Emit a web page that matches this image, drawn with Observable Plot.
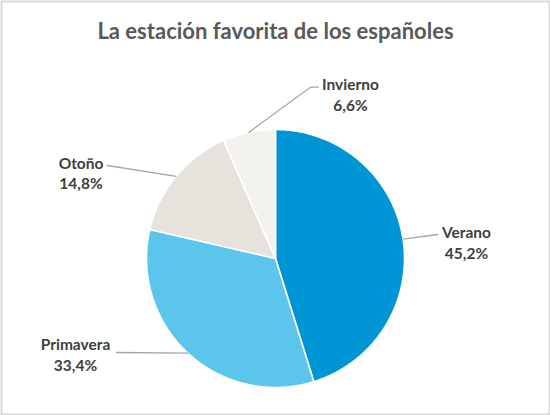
<!DOCTYPE html>
<html>
<head>
<meta charset="utf-8">
<script src="https://cdn.jsdelivr.net/npm/d3@7"></script>
<script src="https://cdn.jsdelivr.net/npm/@observablehq/plot@0.6"></script>
<style>
  html, body { margin: 0; padding: 0; background: #fff; }
  #chart svg { display: block; }
</style>
</head>
<body>
<div id="chart"></div>
<script>
// ---- data ----
const title = "La estación favorita de los españoles";
const seasons = ["Verano", "Primavera", "Otoño", "Invierno"];
const shares = [45.2, 33.4, 14.8, 6.6];
const shareLabels = ["45,2%", "33,4%", "14,8%", "6,6%"];
const colors = ["#0096D6", "#5BC5EC", "#E8E2DC", "#F4F2EE"];

// ---- layout (pixels) ----
const W = 550, H = 415, cx = 275, cy = 258, R = 129;
const toU = px => (px - cx) / R;
const toV = py => (cy - py) / R;
// label block centres and leader end points (label side)
const labelLayout = {
  "Verano":    {x: 466, y: 241.5, leader: [[437, 234]]},
  "Primavera": {x: 75,  y: 353.5, leader: [[116, 352]]},
  "Otoño":     {x: 80.5, y: 172,  leader: [[107, 165]]},
  "Invierno":  {x: 350, y: 93.5,  leader: [[318, 86.7], [310, 86.7]]}
};

// ---- slice geometry from values ----
const total = d3.sum(shares);
let acc = 0;
const slices = seasons.map((s, i) => {
  const a0 = acc / total * 2 * Math.PI;
  acc += shares[i];
  const a1 = acc / total * 2 * Math.PI;
  return {season: s, a0, a1, mid: (a0 + a1) / 2, label: shareLabels[i]};
});

const slicePts = [];
for (const sl of slices) {
  slicePts.push({season: sl.season, u: 0, v: 0});
  const n = Math.max(2, Math.ceil((sl.a1 - sl.a0) / (Math.PI / 360)));
  for (let k = 0; k <= n; k++) {
    const a = sl.a0 + (sl.a1 - sl.a0) * k / n;
    slicePts.push({season: sl.season, u: Math.sin(a), v: Math.cos(a)});
  }
  slicePts.push({season: sl.season, u: 0, v: 0});
}

const leaderPts = [];
for (const sl of slices) {
  const L = labelLayout[sl.season];
  for (const [px, py] of L.leader) leaderPts.push({season: sl.season, u: toU(px), v: toV(py)});
  leaderPts.push({season: sl.season, u: Math.sin(sl.mid), v: Math.cos(sl.mid)});
}

const labels = slices.map(sl => ({
  season: sl.season,
  text: sl.season + "\n" + sl.label,
  u: toU(labelLayout[sl.season].x),
  v: toV(labelLayout[sl.season].y)
}));

const chart = Plot.plot({
  width: W,
  height: H,
  margin: 0,
  x: {domain: [toU(0), toU(W)], axis: null},
  y: {domain: [toV(H), toV(0)], axis: null},
  color: {domain: seasons, range: colors},
  style: {fontFamily: "Lato, sans-serif", background: "#fff"},
  marks: [
    Plot.frame({stroke: "#D9D9D9", strokeWidth: 2, inset: 1}),
    Plot.line(slicePts, {x: "u", y: "v", z: "season", fill: "season", stroke: "white", strokeWidth: 1.6, strokeLinejoin: "round", curve: "linear"}),
    Plot.line(leaderPts, {x: "u", y: "v", z: "season", stroke: "#A6A6A6", strokeWidth: 1.3}),
    Plot.text(labels, {x: "u", y: "v", text: "text", fill: "#404040", fontSize: 15.5, fontWeight: "bold", lineHeight: 1.3, textAnchor: "middle", lineAnchor: "middle"}),
    Plot.text([title], {frameAnchor: "top", dy: 31, text: d => d, fill: "#595959", fontSize: 22, fontWeight: "bold", lineAnchor: "middle"})
  ]
});
document.getElementById("chart").appendChild(chart);
</script>
</body>
</html>
